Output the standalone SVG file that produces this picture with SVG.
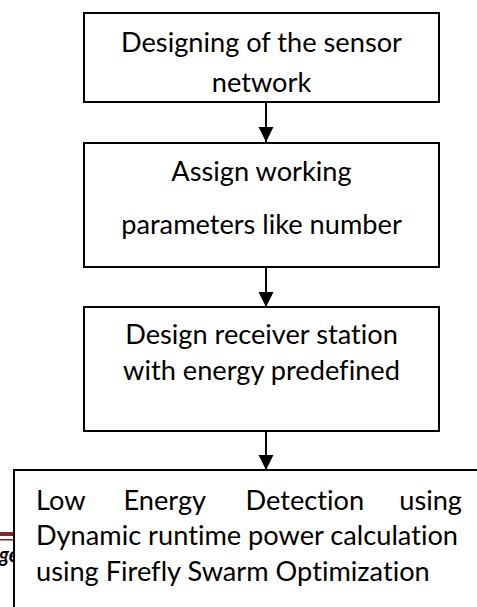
<svg xmlns="http://www.w3.org/2000/svg" width="477" height="607" viewBox="0 0 477 607">
<style>
.box{fill:#fff;stroke:#000;stroke-width:2}
.t{font-family:Lato,"Open Sans",sans-serif;font-size:27.2px;fill:#000;font-variant-ligatures:none}
.c{text-anchor:middle}
.conn{stroke:#000;stroke-width:2;fill:none}
</style>
<defs>
<marker id="ah" markerUnits="userSpaceOnUse" markerWidth="16" markerHeight="16" viewBox="0 0 16 16" refX="15" refY="8" orient="auto">
<path d="M0,0.5 L15,8 L0,15.5 Z" fill="#000"/>
</marker>
</defs>
<rect width="477" height="607" fill="#fff"/>
<g id="footer">
<rect x="0" y="532" width="16" height="4" fill="#7a2a2a"/>
<rect x="0" y="539" width="16" height="1.5" fill="#7a2a2a"/>
<text x="-1" y="562" font-family="Lato,sans-serif" font-size="20" font-weight="bold" font-style="italic">ge</text>
</g>
<g id="connectors">
<line class="conn" x1="266" y1="102" x2="266" y2="142" marker-end="url(#ah)"/>
<line class="conn" x1="266" y1="267" x2="266" y2="307" marker-end="url(#ah)"/>
<line class="conn" x1="266" y1="431" x2="266" y2="470" marker-end="url(#ah)"/>
</g>
<g id="n1">
<rect class="box" x="84" y="13" width="355" height="89"/>
<text class="t c" x="261.5" y="52">Designing of the sensor</text>
<text class="t c" x="261.5" y="92">network</text>
</g>
<g id="n2">
<rect class="box" x="84" y="143" width="355" height="124"/>
<text class="t c" x="261.5" y="181">Assign working</text>
<text class="t c" x="261.5" y="234">parameters like number</text>
</g>
<g id="n3">
<rect class="box" x="84" y="307" width="355" height="124"/>
<text class="t c" x="261.5" y="344">Design receiver station</text>
<text class="t c" x="261.5" y="380">with energy predefined</text>
</g>
<g id="n4">
<rect class="box" x="14" y="470" width="470" height="150"/>
<text class="t" y="510"><tspan x="36">Low</tspan><tspan x="123.5">Energy</tspan><tspan x="245.5">Detection</tspan><tspan x="462" text-anchor="end">using</tspan></text>
<text class="t" x="36" y="545">Dynamic runtime power calculation</text>
<text class="t" x="36" y="581">using Firefly Swarm Optimization</text>
</g>
</svg>
